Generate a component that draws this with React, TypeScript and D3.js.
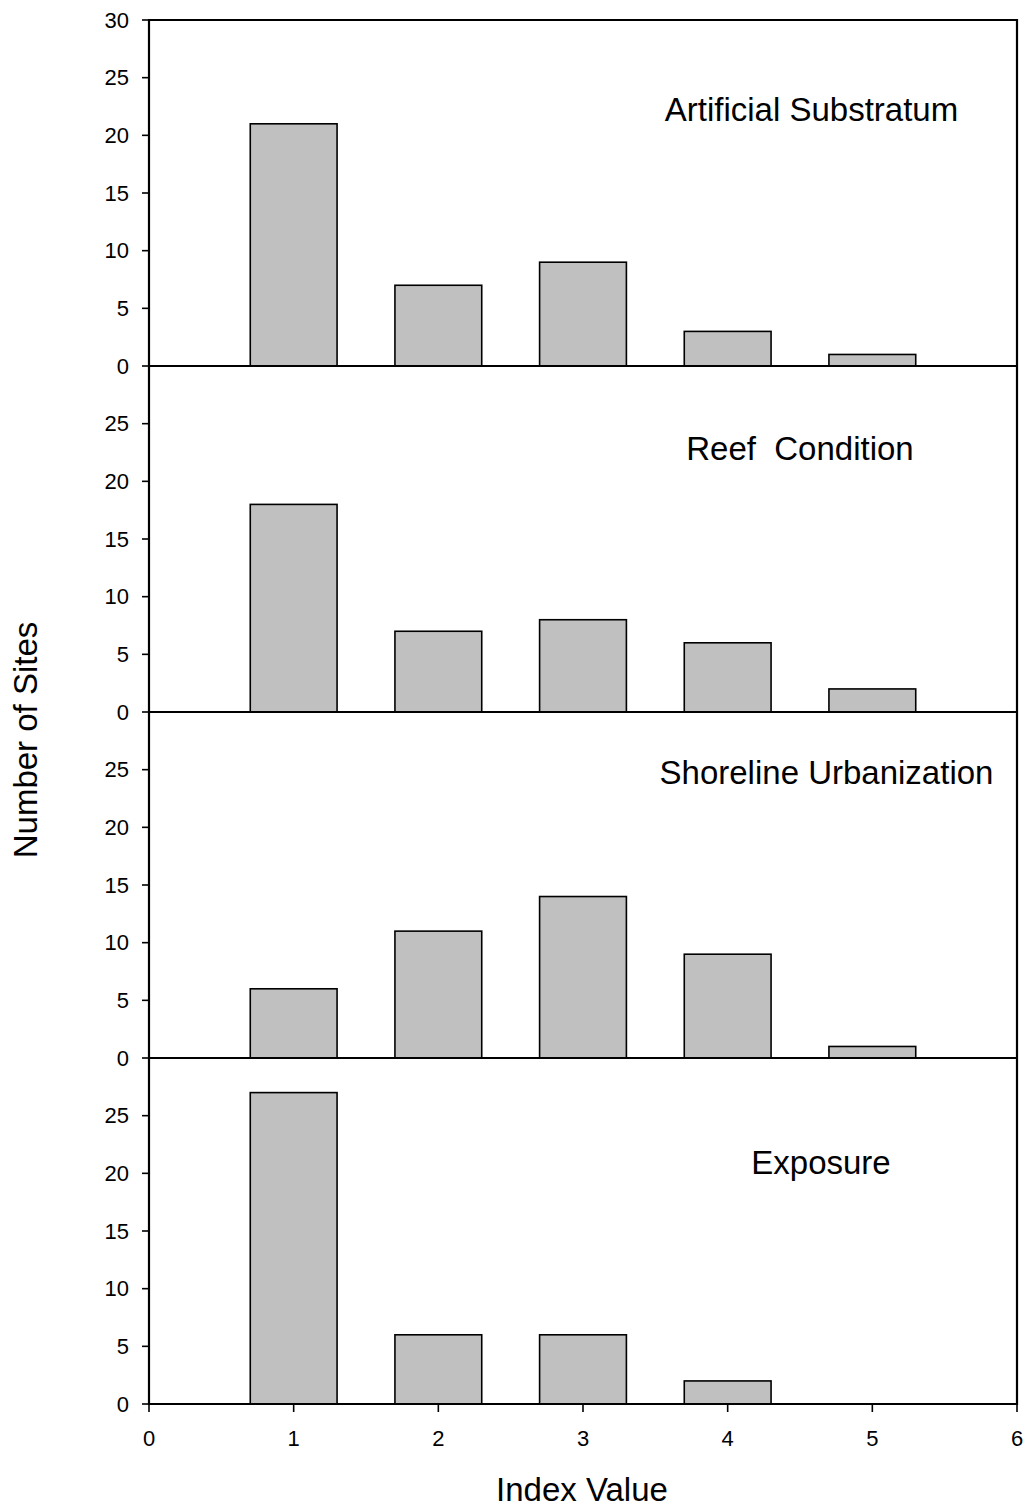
import React from "react";
import * as d3 from "d3";

const indexValues = [1, 2, 3, 4, 5];
const panelTitles = ["Artificial Substratum", "Reef  Condition", "Shoreline Urbanization", "Exposure"];
const artificialSubstratum = [21, 7, 9, 3, 1];
const reefCondition = [18, 7, 8, 6, 2];
const shorelineUrbanization = [6, 11, 14, 9, 1];
const exposure = [27, 6, 6, 2, 0];
const xTicks = [0, 1, 2, 3, 4, 5, 6];
const yTicksFirst = [0, 5, 10, 15, 20, 25, 30];
const yTicksOther = [0, 5, 10, 15, 20, 25];
const titleCenters = [811.5, 800, 826.5, 821];
const titleBaselines = [121, 460, 784, 1174];

export default function App() {
  const W = 1025, H = 1511;
  const left = 149, right = 1017, top = 20, panelH = 346;
  const x = d3.scaleLinear().domain([0, 6]).range([left, right]);
  const series = [artificialSubstratum, reefCondition, shorelineUrbanization, exposure];
  const barW = x(0.6) - x(0);
  const font = "Arial, 'Liberation Sans', sans-serif";
  const bottom = top + panelH * 4;

  return (
    <svg width={W} height={H} style={{ position: "absolute", left: 0, top: 0 }} fontFamily={font}>
      <rect width={W} height={H} fill="#fff" />
      {series.map((vals, p) => {
        const y0 = top + panelH * p;
        const y = d3.scaleLinear().domain([0, 30]).range([y0 + panelH, y0]);
        const ticks = p === 0 ? yTicksFirst : yTicksOther;
        return (
          <g key={p}>
            {vals.map((v, i) => v > 0 ? (
              <rect key={i} x={x(indexValues[i]) - barW / 2} y={y(v)} width={barW} height={y(0) - y(v)}
                fill="#c0c0c0" stroke="#000" strokeWidth={1.6} />
            ) : null)}
            {ticks.map(t => (
              <g key={t}>
                <line x1={left - 7} x2={left} y1={y(t)} y2={y(t)} stroke="#000" strokeWidth={1.6} />
                <text x={left - 20} y={y(t)} dy="0.35em" textAnchor="end" fontSize={22}>{t}</text>
              </g>
            ))}
            <line x1={left - 1} x2={right + 1} y1={y(0)} y2={y(0)} stroke="#000" strokeWidth={2.2} />
            <text x={titleCenters[p]} y={titleBaselines[p]} textAnchor="middle" fontSize={33} style={{ whiteSpace: "pre" }}>{panelTitles[p]}</text>
          </g>
        );
      })}
      <line x1={left} x2={right} y1={top} y2={top} stroke="#000" strokeWidth={2.2} />
      <line x1={left} x2={left} y1={top - 1} y2={bottom + 1} stroke="#000" strokeWidth={2.2} />
      <line x1={right} x2={right} y1={top - 1} y2={bottom + 1} stroke="#000" strokeWidth={2.2} />
      {xTicks.map(t => (
        <g key={t}>
          <line x1={x(t)} x2={x(t)} y1={bottom} y2={bottom + 8} stroke="#000" strokeWidth={1.6} />
          <text x={x(t)} y={1446} textAnchor="middle" fontSize={22}>{t}</text>
        </g>
      ))}
      <text x={582} y={1501} textAnchor="middle" fontSize={33}>Index Value</text>
      <text transform={`translate(37,740) rotate(-90)`} textAnchor="middle" fontSize={33}>Number of Sites</text>
    </svg>
  );
}
